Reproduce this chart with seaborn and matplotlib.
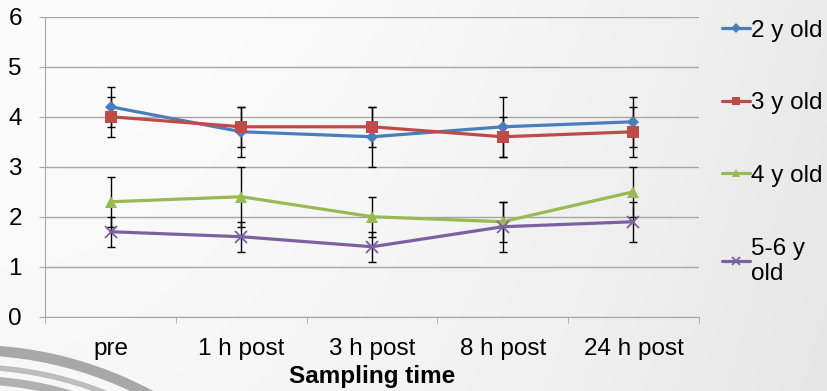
import numpy as np
import pandas as pd
import matplotlib
matplotlib.use("Agg")
import matplotlib.pyplot as plt
import seaborn as sns
from matplotlib.patches import Arc

times = ["pre", "1 h post", "3 h post", "8 h post", "24 h post"]
groups = ["2 y old", "3 y old", "4 y old", "5-6 y\nold"]

y2 = [4.2, 3.7, 3.6, 3.8, 3.9]
y3 = [4.0, 3.8, 3.8, 3.6, 3.7]
y4 = [2.3, 2.4, 2.0, 1.9, 2.5]
y56 = [1.7, 1.6, 1.4, 1.8, 1.9]

e2 = [0.4, 0.5, 0.6, 0.6, 0.5]
e3 = [0.4, 0.4, 0.4, 0.4, 0.5]
e4 = [0.5, 0.6, 0.4, 0.4, 0.5]
e56 = [0.3, 0.3, 0.3, 0.5, 0.4]

colors = ["#4A7EBB", "#BE4B48", "#98B954", "#7D60A0"]
markers = ["D", "s", "^", "x"]
msizes = [6.5, 8, 8.5, 8]

values = [y2, y3, y4, y56]
errors = [e2, e3, e4, e56]

sns.set_style("white")
plt.rcParams["font.family"] = ["Liberation Sans", "DejaVu Sans"]
plt.rcParams["text.color"] = "black"
plt.rcParams["xtick.labelcolor"] = "black"
plt.rcParams["ytick.labelcolor"] = "black"
plt.rcParams["axes.labelcolor"] = "black"

W, H = 827, 391
fig = plt.figure(figsize=(W / 100, H / 100), dpi=100)

# soft grey background gradient, lighter towards the upper left
gx, gy = np.meshgrid(np.linspace(0, 1, W), np.linspace(0, 1, H))
shade = (252 - 22 * (0.8 * gx ** 2 + 0.2 * gy)) / 255
bg = np.dstack([shade, shade, shade])
fig.figimage(bg, 0, 0, origin="upper", zorder=-10)

ax = fig.add_axes([0.055, 0.19, 0.79, 0.767])
ax.set_facecolor("none")

# decorative swoosh in the lower left (display pixels)
for dr, lw, c in [(0, 7.5, "#a8a8a8"), (-17, 4, "#bdbdbd"), (-30, 6, "#b0b0b0"), (-44, 3, "#c4c4c4")]:
    r = 381 + dr
    fig.patches.append(Arc((-30, -340), 2 * r, 2 * r, theta1=60, theta2=95,
                           transform=None, lw=lw, color=c, zorder=0))

x = np.arange(len(times))
for i, g in enumerate(groups):
    ax.errorbar(x, values[i], yerr=errors[i], fmt="none", ecolor="black",
                elinewidth=1, capsize=3, capthick=1, zorder=2)

for i, g in enumerate(groups):
    d = pd.DataFrame({"time": times, "value": values[i]})
    sns.lineplot(data=d, x="time", y="value", color=colors[i], marker=markers[i],
                 markersize=msizes[i], markeredgewidth=1.3 if markers[i] == "x" else 0,
                 markeredgecolor=colors[i], linewidth=2.3, label=g, ax=ax,
                 zorder=3, sort=False)

ax.set_ylim(0, 6)
ax.set_xlim(-0.5, 4.5)
ax.set_yticks(range(7))
ax.set_xticks(x)
ax.set_xticklabels(times)
ax.set_xticks(np.arange(-0.5, 5, 1), minor=True)
ax.yaxis.grid(True, color="#a6a6a6", linewidth=1)
ax.set_axisbelow(True)
for s in ["top", "right"]:
    ax.spines[s].set_visible(False)
ax.spines["left"].set_color("#a6a6a6")
ax.spines["bottom"].set_color("#a6a6a6")
ax.tick_params(axis="y", length=4, color="#a6a6a6", labelsize=17.5, left=True, pad=13)
ax.tick_params(axis="x", which="major", length=0, labelsize=17.5, pad=15)
ax.tick_params(axis="x", which="minor", length=4, color="#a6a6a6", bottom=True)
ax.set_xlabel("Sampling time", fontsize=17.5, fontweight="bold", labelpad=4)
ax.set_ylabel("")

handles, labels = ax.get_legend_handles_labels()
leg = ax.legend(handles, labels, loc="upper left", bbox_to_anchor=(1.035, 0.99),
                frameon=False, fontsize=17.5, labelspacing=2.08, handlelength=1.15,
                handletextpad=0.05, borderaxespad=0, borderpad=0)
for h, ms in zip(leg.legend_handles, msizes):
    h.set_markersize(ms * 0.75)

fig.savefig("out.png", dpi=100)
